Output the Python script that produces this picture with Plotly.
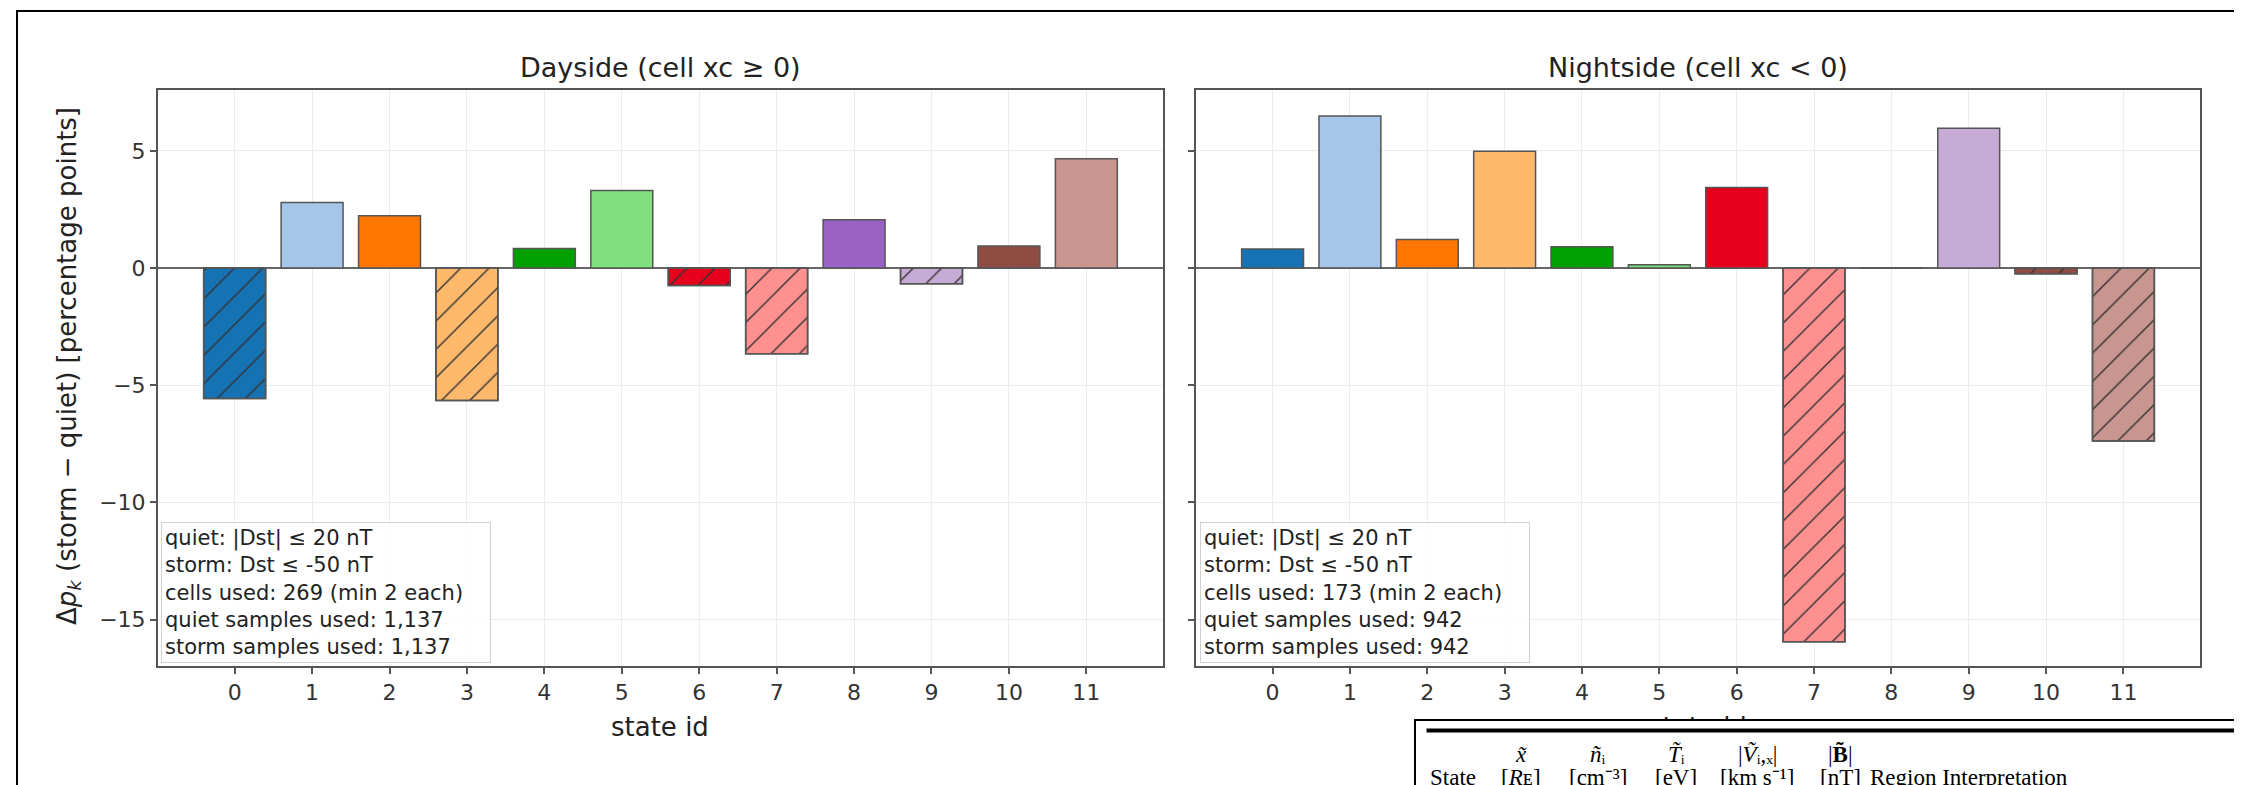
import plotly.graph_objects as go

W, H = 2242, 785

states = list(range(12))
state_labels = [str(s) for s in states]
dayside = [-5.57, 2.80, 2.23, -5.65, 0.84, 3.31, -0.74, -3.66, 2.06, -0.67, 0.94, 4.67]
nightside = [0.81, 6.49, 1.22, 4.99, 0.91, 0.14, 3.44, -15.95, 0.0, 5.97, -0.24, -7.38]
state_colors = ["#1572b3", "#a6c6e9", "#ff7700", "#ffb96c", "#00a000", "#80df7f",
                "#e6001b", "#ff9090", "#9a62c4", "#c7abd7", "#8f4c42", "#c8968e"]

panel_titles = ["Dayside (cell xc \u2265 0)", "Nightside (cell xc < 0)"]
y_title = "\u0394<i>p</i><sub><i>k</i></sub> (storm \u2212 quiet) [percentage points]"
x_title = "state id"
y_ticks = [-15, -10, -5, 0, 5]
y_tick_text = ["\u221215", "\u221210", "\u22125", "0", "5"]

day_info = ["quiet: |Dst| \u2264 20 nT", "storm: Dst \u2264 -50 nT",
            "cells used: 269 (min 2 each)", "quiet samples used: 1,137",
            "storm samples used: 1,137"]
night_info = ["quiet: |Dst| \u2264 20 nT", "storm: Dst \u2264 -50 nT",
              "cells used: 173 (min 2 each)", "quiet samples used: 942",
              "storm samples used: 942"]

table_symbols = ["", "<i>x\u0303</i>", "<i>n\u0303</i>\u1d62", "<i>T\u0303</i>\u1d62",
                 "|<i>V\u0303</i>\u1d62,\u2093|", "|<b>B\u0303</b>|", ""]
table_units = ["State", "[<i>R</i>\u1d07]", "[cm\u207b\u00b3]", "[eV]",
               "[km s\u207b\u00b9]", "[nT]", "Region Interpretation"]


def px(x):
    return x / W


def py(y):
    return 1 - y / H


FONT = "DejaVu Sans"
SERIF = "Liberation Serif"

fig = go.Figure()
for i, vals in enumerate([dayside, nightside]):
    xa = "x" if i == 0 else "x2"
    ya = "y" if i == 0 else "y2"
    fig.add_trace(go.Bar(
        x=states, y=vals, width=0.8,
        marker=dict(color=state_colors, line=dict(color="#555555", width=1.5)),
        xaxis=xa, yaxis=ya, showlegend=False))
    neg = [v if v < 0 else None for v in vals]
    fig.add_trace(go.Bar(
        x=states, y=neg, width=0.8,
        marker=dict(color="rgba(0,0,0,0)", line=dict(color="#555555", width=1.5),
                    pattern=dict(shape="/", fillmode="replace", fgcolor="#333333",
                                 bgcolor="rgba(0,0,0,0)", fgopacity=1,
                                 size=20, solidity=0.07)),
        xaxis=xa, yaxis=ya, showlegend=False, hoverinfo="skip"))

ydom = [py(658), py(82)]
axis_common = dict(showline=True, mirror=True, linecolor="#555555", linewidth=2,
                   ticks="outside", ticklen=6, tickwidth=1.5, tickcolor="#555555",
                   showgrid=True, gridcolor="#ececec", gridwidth=1,
                   tickfont=dict(family=FONT, size=22, color="#333333"))
xaxis_common = dict(axis_common, range=[-0.99, 11.99], tickmode="array",
                    tickvals=states, ticktext=state_labels, zeroline=False)
yaxis_common = dict(axis_common, range=[-16.98, 7.6], tickmode="array",
                    tickvals=y_ticks, ticktext=y_tick_text, zeroline=True,
                    zerolinecolor="#666666", zerolinewidth=2, domain=ydom)

fig.update_layout(
    width=W, height=H, margin=dict(l=0, r=0, t=0, b=0),
    paper_bgcolor="white", plot_bgcolor="white", barmode="overlay",
    xaxis=dict(xaxis_common, domain=[px(150), px(1155)], anchor="y"),
    xaxis2=dict(xaxis_common, domain=[px(1188), px(2192)], anchor="y2"),
    yaxis=dict(yaxis_common, anchor="x"),
    yaxis2=dict(yaxis_common, anchor="x2", showticklabels=False, matches="y"),
)

# outer figure border
fig.add_shape(type="rect", xref="paper", yref="paper",
              x0=px(9), x1=px(2234), y0=py(800), y1=py(3),
              line=dict(color="black", width=2), fillcolor="rgba(0,0,0,0)", layer="below")

P = dict(xref="paper", yref="paper", showarrow=False)
ann = []
for cx, t in zip([652, 1690], panel_titles):
    ann.append(dict(P, x=px(cx), y=py(60), text=t, xanchor="center",
                    yanchor="middle", font=dict(family=FONT, size=27, color="#222222")))
ann.append(dict(P, x=px(60), y=py(358), text=y_title, textangle=-90,
                xanchor="center", yanchor="middle",
                font=dict(family=FONT, size=26, color="#222222")))
for cx in [652, 1690]:
    ann.append(dict(P, x=px(cx), y=py(719), text=x_title, xanchor="center",
                    yanchor="middle", font=dict(family=FONT, size=26, color="#222222")))
for lx, lines in zip([153, 1192], [day_info, night_info]):
    ann.append(dict(P, x=px(lx), y=py(655), text="<br>".join(lines),
                    xanchor="left", yanchor="bottom", align="left", width=322,
                    bgcolor="rgba(255,255,255,0.85)", bordercolor="#d0d0d0", borderwidth=1,
                    borderpad=3, font=dict(family=FONT, size=21, color="#222222")))

# overlapping table fragment
ann.append(dict(P, x=px(1406), y=py(711), text=" ", xanchor="left",
                yanchor="top", width=900, height=120, bgcolor="white",
                bordercolor="black", borderwidth=2, borderpad=0,
                font=dict(size=4)))
ann.append(dict(P, x=px(1418), y=py(720), text=" ", xanchor="left",
                yanchor="top", width=900, height=3, bgcolor="black", borderpad=0,
                font=dict(size=2)))
col_x = [1445, 1513, 1590, 1668, 1749, 1833, 1860]
for j, (sym, unit) in enumerate(zip(table_symbols, table_units)):
    anchor = "left" if j == 6 else "center"
    if sym:
        ann.append(dict(P, x=px(col_x[j]), y=py(746), text=sym,
                        xanchor="center", yanchor="middle",
                        font=dict(family=SERIF, size=23, color="black")))
    ann.append(dict(P, x=px(col_x[j]), y=py(769), text=unit,
                    xanchor=anchor, yanchor="middle",
                    font=dict(family=SERIF, size=23, color="black")))

fig.update_layout(annotations=ann)
fig.write_html("out.html")
